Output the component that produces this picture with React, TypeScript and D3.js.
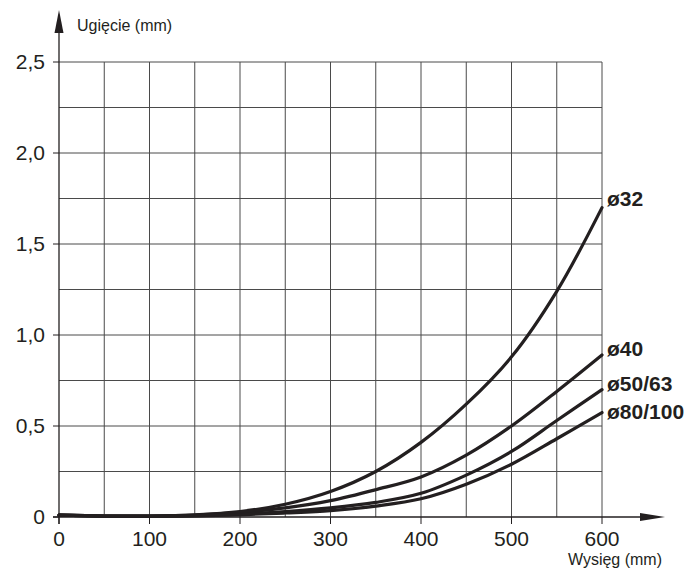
import * as d3 from 'd3'

const reach = [0, 50, 100, 150, 200, 250, 300, 350, 400, 450, 500, 550, 600]
const d32 = [0.01, 0.005, 0.005, 0.012, 0.03, 0.07, 0.14, 0.25, 0.41, 0.62, 0.88, 1.24, 1.7]
const d40 = [0.01, 0.005, 0.005, 0.01, 0.025, 0.05, 0.09, 0.15, 0.22, 0.34, 0.5, 0.69, 0.89]
const d50 = [0.01, 0.005, 0.005, 0.008, 0.016, 0.03, 0.05, 0.08, 0.13, 0.23, 0.36, 0.53, 0.7]
const d80 = [0.01, 0.005, 0.004, 0.006, 0.012, 0.022, 0.035, 0.06, 0.1, 0.18, 0.29, 0.43, 0.574]
const seriesNames = ['ø32', 'ø40', 'ø50/63', 'ø80/100']
const xTicks = [0, 100, 200, 300, 400, 500, 600]
const yTicks = [0, 0.5, 1, 1.5, 2, 2.5]
const yTickLabels = ['0', '0,5', '1,0', '1,5', '2,0', '2,5']

const W = 698
const H = 569
const FONT = '"Liberation Sans", Arial, sans-serif'
const INK = '#231f20'

export default function App() {
  const x = d3.scaleLinear().domain([0, 600]).range([59, 602])
  const y = d3.scaleLinear().domain([0, 2.5]).range([517, 62])

  const series = [d32, d40, d50, d80]
  const labelDy = [-2, 1, 1, 6]

  const line = d3
    .line<number>()
    .x((_, i) => x(reach[i]))
    .y((d) => y(d))
    .curve(d3.curveCatmullRom.alpha(0.5))

  const xGrid = d3.range(50, 601, 50)
  const yGrid = d3.range(0.25, 2.51, 0.25)

  const x0 = x(0)
  const y0 = y(0)

  return (
    <svg
      width={W}
      height={H}
      style={{ position: 'absolute', left: 0, top: 0, background: '#fff' }}
    >
      {/* grid */}
      <g stroke="#4a4a4a" strokeWidth={1}>
        {xGrid.map((v) => (
          <line key={'gx' + v} x1={x(v)} x2={x(v)} y1={y(0)} y2={y(2.5)} />
        ))}
        {yGrid.map((v) => (
          <line key={'gy' + v} x1={x(0)} x2={x(600)} y1={y(v)} y2={y(v)} />
        ))}
      </g>

      {/* ticks */}
      <g stroke={INK} strokeWidth={1}>
        {yTicks.map((v) => (
          <line key={'ty' + v} x1={x0 - 6} x2={x0} y1={y(v)} y2={y(v)} />
        ))}
        {xTicks.map((v) => (
          <line key={'tx' + v} x1={x(v)} x2={x(v)} y1={y0} y2={y0 + 7} />
        ))}
      </g>

      {/* axes with arrows */}
      <g stroke={INK} strokeWidth={1.3}>
        <line x1={x0} x2={x0} y1={y0 + 7} y2={30} />
        <line x1={x0 - 6} x2={645} y1={y0} y2={y0} />
      </g>
      <path d={`M${x0},10 L${x0 + 4.5},33 L${x0 - 4.5},33 Z`} fill={INK} />
      <path d={`M665,${y0} L640,${y0 - 4} L640,${y0 + 4} Z`} fill={INK} />

      {/* tick labels */}
      <g fontFamily={FONT} fontSize={21} fill={INK}>
        {yTicks.map((v, i) => (
          <text key={'ly' + v} x={45} y={y(v) + 7} textAnchor="end">
            {yTickLabels[i]}
          </text>
        ))}
        {xTicks.map((v) => (
          <text key={'lx' + v} x={x(v)} y={546} textAnchor="middle">
            {v}
          </text>
        ))}
      </g>

      {/* axis titles */}
      <g fontFamily={FONT} fontSize={16} fill={INK}>
        <text x={77} y={31}>Ugięcie (mm)</text>
        <text x={662} y={565} textAnchor="end">Wysięg (mm)</text>
      </g>

      {/* curves */}
      <g fill="none" stroke={INK} strokeWidth={3.2} strokeLinecap="round">
        {series.map((s, i) => (
          <path key={seriesNames[i]} d={line(s) || ''} />
        ))}
      </g>

      {/* series labels */}
      <g fontFamily={FONT} fontSize={21} fontWeight="bold" fill={INK}>
        {series.map((s, i) => (
          <text
            key={'n' + seriesNames[i]}
            x={x(600) + 5}
            y={y(s[s.length - 1]) + labelDy[i]}
          >
            {seriesNames[i]}
          </text>
        ))}
      </g>
    </svg>
  )
}
